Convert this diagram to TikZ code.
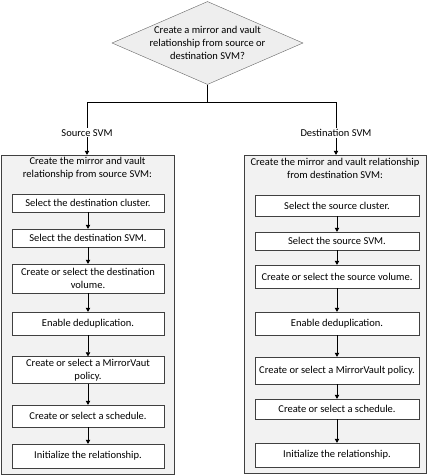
\documentclass[tikz,border=0pt]{standalone}
\usepackage{fontspec}
\setmainfont{Carlito}
\usetikzlibrary{shapes.geometric,arrows.meta}
\definecolor{panel}{HTML}{F2F2F2}
\definecolor{dia}{HTML}{EEEEEE}
\definecolor{edge}{HTML}{404040}
\begin{document}
\begin{tikzpicture}[x=1pt,y=-1pt,
  every node/.style={font=\fontsize{10.5}{13}\selectfont, text=black},
  decision/.style={diamond, draw=edge!80, fill=dia, minimum width=191pt, minimum height=83pt, inner sep=0pt},
  panelbox/.style={draw=edge, fill=panel, rectangle, inner sep=0pt},
  stepbox/.style={draw=edge, fill=white, rectangle, inner sep=0pt, align=center},
  lbl/.style={fill=white, inner sep=1pt},
  arr/.style={-{Triangle[length=4pt,width=4.5pt]}, line width=0.6pt},
  ln/.style={line width=0.6pt}
]
\useasboundingbox (0,0) rectangle (429,475);
% decision
\node[decision] (q) at (207.5,43) {};
\node[align=center, inner sep=0pt] (qt) at (207.5,43) {Create a mirror and vault\\relationship from source or\\destination SVM?};
\coordinate (jl) at (87,102);
\coordinate (jr) at (336,102);
% panels
\node[panelbox, minimum width=173pt, minimum height=319pt] (lc) at (87.5,314.5) {};
\node[panelbox, minimum width=182pt, minimum height=318pt] (rc) at (335,314) {};
\node[align=center, inner sep=0pt] (lct) at (87.5,168.5) {Create the mirror and vault\\relationship from source SVM:};
\node[align=center, inner sep=0pt] (rct) at (335,168.5) {Create the mirror and vault relationship\\from destination SVM:};
% left steps
\node[stepbox, minimum width=152pt, minimum height=18pt] (l1) at (88,203) {Select the destination cluster.};
\node[stepbox, minimum width=152pt, minimum height=18pt] (l2) at (88,238) {Select the destination SVM.};
\node[stepbox, minimum width=152pt, minimum height=29pt] (l3) at (88,278.5) {Create or select the destination\\volume.};
\node[stepbox, minimum width=152pt, minimum height=23pt] (l4) at (88,323.5) {Enable deduplication.};
\node[stepbox, minimum width=152pt, minimum height=27pt] (l5) at (88,370) {Create or select a MirrorVaut\\policy.};
\node[stepbox, minimum width=152pt, minimum height=22pt] (l6) at (88,416) {Create or select a schedule.};
\node[stepbox, minimum width=152pt, minimum height=24pt] (l7) at (88,456) {Initialize the relationship.};
% right steps
\node[stepbox, minimum width=164pt, minimum height=21pt] (r1) at (337,205.5) {Select the source cluster.};
\node[stepbox, minimum width=164pt, minimum height=18pt] (r2) at (337,241) {Select the source SVM.};
\node[stepbox, minimum width=164pt, minimum height=23pt] (r3) at (337,276.5) {Create or select the source volume.};
\node[stepbox, minimum width=164pt, minimum height=23pt] (r4) at (337,323.5) {Enable deduplication.};
\node[stepbox, minimum width=164pt, minimum height=27pt] (r5) at (337,370.5) {Create or select a MirrorVault policy.};
\node[stepbox, minimum width=164pt, minimum height=20pt] (r6) at (337,409) {Create or select a schedule.};
\node[stepbox, minimum width=164pt, minimum height=24pt] (r7) at (337,455) {Initialize the relationship.};
% connectors
\draw[ln] (q.south) -- (q.south |- jl);
\draw[ln] (jl) -- (jr);
\draw[arr] (jl) -- node[lbl, pos=0.585] (ls) {Source SVM} (jl |- lc.north);
\draw[arr] (jr) -- node[lbl, pos=0.585] (rs) {Destination SVM} (jr |- rc.north);
\foreach \a/\b in {l1/l2,l2/l3,l3/l4,l4/l5,l5/l6,l6/l7,r1/r2,r2/r3,r3/r4,r4/r5,r5/r6,r6/r7}
  \draw[arr] (\a.south) -- (\b.north);
\end{tikzpicture}
\end{document}
